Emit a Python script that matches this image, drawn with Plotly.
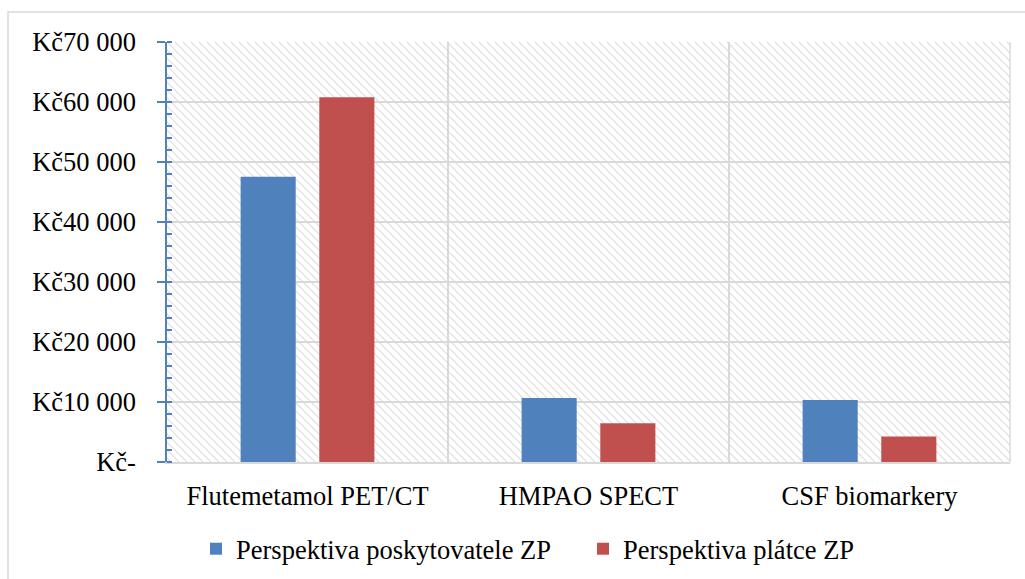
import base64
import plotly.graph_objects as go

# Cost per diagnostic method from two perspectives (CZK)
categories = ["Flutemetamol PET/CT", "HMPAO SPECT", "CSF biomarkery"]
series_names = ["Perspektiva poskytovatele ZP", "Perspektiva plátce ZP"]
provider_costs = [47550, 10650, 10350]
payer_costs = [60800, 6450, 4250]
y_tick_values = [0, 10000, 20000, 30000, 40000, 50000, 60000, 70000]
y_tick_labels = ["Kč-", "Kč10 000", "Kč20 000", "Kč30 000", "Kč40 000",
                 "Kč50 000", "Kč60 000", "Kč70 000"]

BLUE = "#4f81bd"
RED = "#c0504d"
GRID = "#d9d9d9"
FONT = "Times New Roman"
FS = 26.5

W, H = 1025, 579
M_L, M_R, M_T, M_B = 167, 15, 42, 117
PW, PH = W - M_L - M_R, H - M_T - M_B

# Light diagonal hatch used as the plot-area fill
hatch_svg = f"""<svg xmlns='http://www.w3.org/2000/svg' width='{PW}' height='{PH}'>
<defs><pattern id='h' patternUnits='userSpaceOnUse' width='8' height='8'>
<path d='M-2,-2 L10,10 M-2,6 L2,10 M6,-2 L10,2' stroke='#e2e2e2' stroke-width='1.3'/>
</pattern></defs>
<rect width='100%' height='100%' fill='white'/>
<rect width='100%' height='100%' fill='url(#h)'/>
</svg>"""
hatch_uri = "data:image/svg+xml;base64," + base64.b64encode(hatch_svg.encode()).decode()

fig = go.Figure()
fig.add_trace(go.Bar(name=series_names[0], x=categories, y=provider_costs,
                     marker=dict(color=BLUE, line=dict(width=0))))
fig.add_trace(go.Bar(name=series_names[1], x=categories, y=payer_costs,
                     marker=dict(color=RED, line=dict(width=0))))

fig.update_layout(
    width=W, height=H,
    margin=dict(l=M_L, r=M_R, t=M_T, b=M_B, pad=0, autoexpand=False),
    paper_bgcolor="white",
    plot_bgcolor="rgba(0,0,0,0)",
    barmode="group",
    bargap=0.44,
    bargroupgap=0.30,
    font=dict(family=FONT, size=FS, color="black"),
    showlegend=True,
    legend=dict(orientation="h", x=(210 - 14 - M_L) / PW, y=(M_T + PH - 549) / PH,
                xanchor="left", yanchor="middle",
                font=dict(family=FONT, size=FS, color="black"),
                bgcolor="rgba(0,0,0,0)", itemwidth=30, tracegroupgap=0,
                entrywidth=342, entrywidthmode="pixels"),
    images=[dict(source=hatch_uri, xref="paper", yref="paper", x=0, y=1,
                 sizex=1, sizey=1, xanchor="left", yanchor="top",
                 sizing="stretch", layer="below")],
    shapes=[
        # outer chart frame
        dict(type="rect", xref="paper", yref="paper",
             x0=(8 - M_L) / PW, x1=1.2, y0=-0.5, y1=(PH + M_T - 12) / PH,
             line=dict(color=GRID, width=1.5), fillcolor="rgba(0,0,0,0)",
             layer="below"),
        # right edge of the plot area
        dict(type="line", xref="paper", yref="paper", x0=1, x1=1, y0=0, y1=1,
             line=dict(color=GRID, width=1.5)),
    ],
)

fig.update_xaxes(
    type="category", automargin=False,
    showline=True, linecolor=GRID, linewidth=1.5,
    showgrid=True, gridcolor=GRID, gridwidth=1.5,
    tickson="boundaries", ticks="", ticklabelstandoff=9,
    tickfont=dict(family=FONT, size=FS, color="black"),
)

fig.update_yaxes(
    range=[0, 70000], automargin=False,
    tickvals=y_tick_values, ticktext=y_tick_labels,
    showline=True, linecolor=BLUE, linewidth=1.5,
    ticks="outside", ticklen=8, tickwidth=1.5, tickcolor=BLUE,
    ticklabelstandoff=16,
    minor=dict(dtick=2000, ticks="inside", ticklen=5, tickwidth=1.5,
               tickcolor=BLUE, showgrid=False),
    showgrid=True, gridcolor=GRID, gridwidth=1.5,
    zeroline=False,
    tickfont=dict(family=FONT, size=FS, color="black"),
)

fig.write_html("out.html")
